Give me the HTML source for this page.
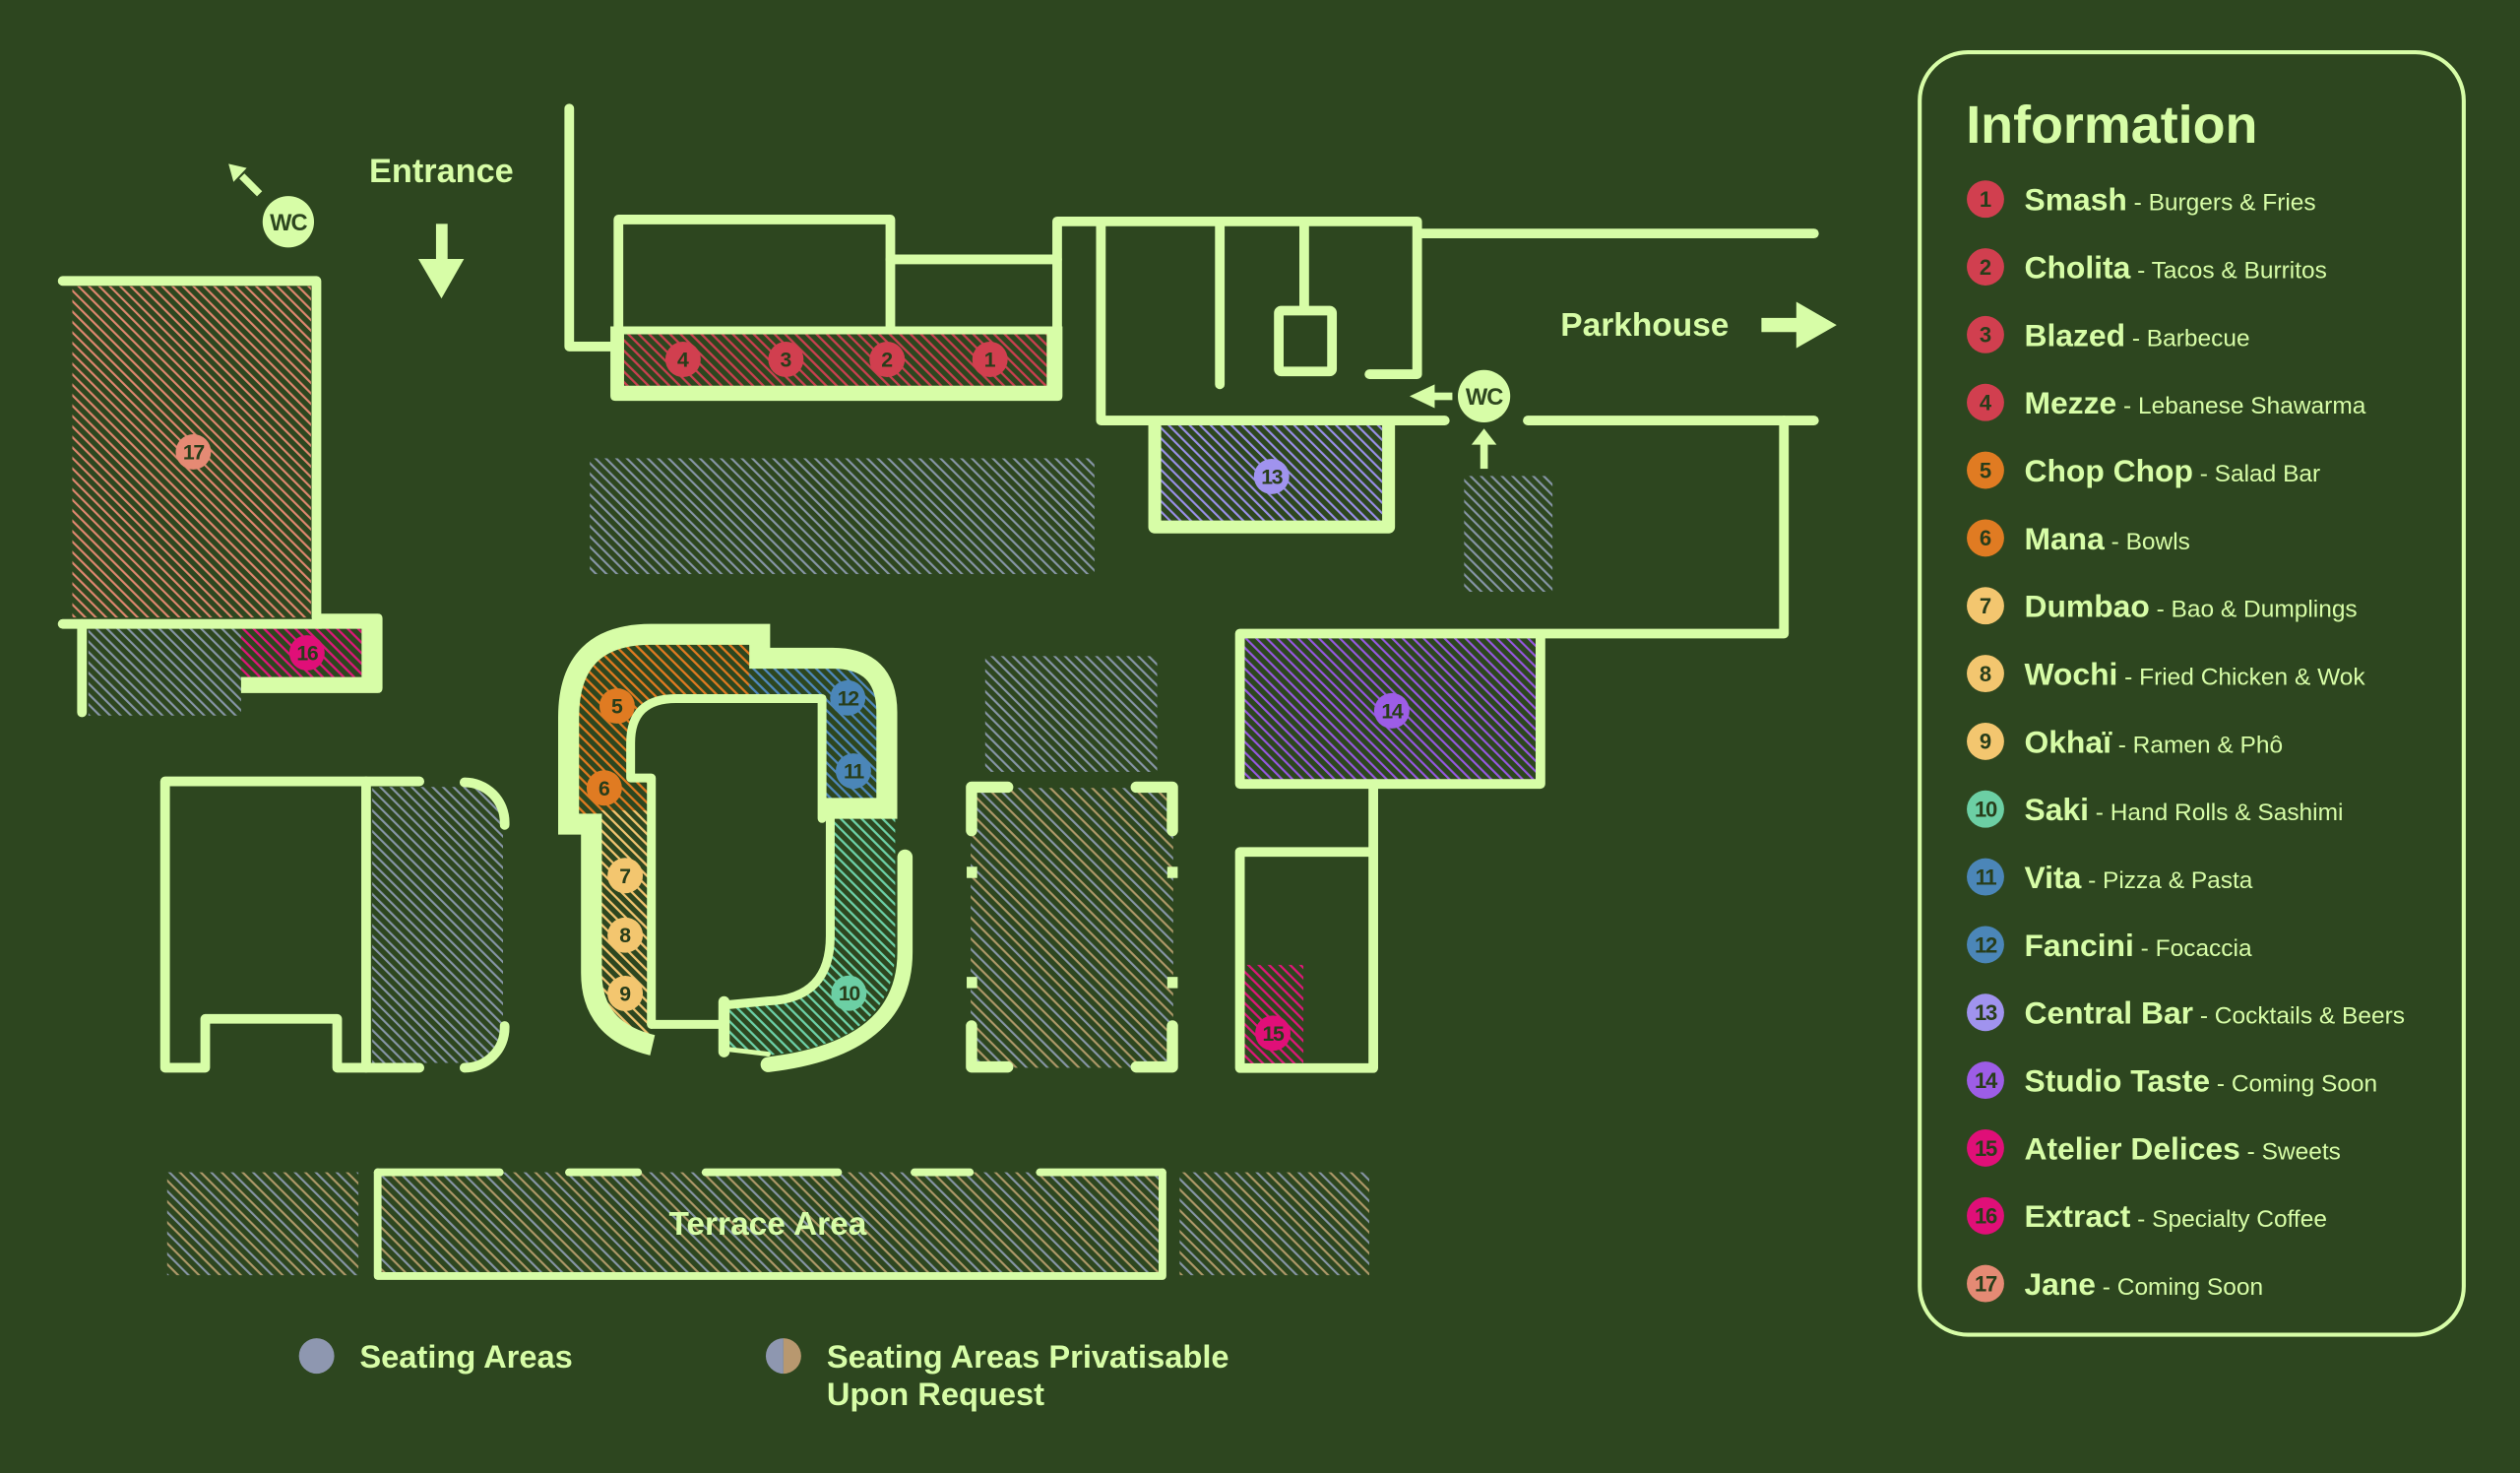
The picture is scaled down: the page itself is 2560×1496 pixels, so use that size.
<!DOCTYPE html>
<html><head><meta charset="utf-8">
<style>
html,body{margin:0;padding:0;background:#2d461f;}
svg{display:block;}
text{font-family:"Liberation Sans",Arial,sans-serif;}
</style></head><body>
<svg width="2560" height="1496" viewBox="0 0 1568 916" preserveAspectRatio="none" xmlns="http://www.w3.org/2000/svg">
<defs>
<pattern id="hg" patternUnits="userSpaceOnUse" width="4.6" height="4.6" patternTransform="rotate(-45)"><rect width="1.3" height="4.6" fill="#8796a6"/></pattern>
<pattern id="hp" patternUnits="userSpaceOnUse" width="9.2" height="4.6" patternTransform="rotate(-45)"><rect width="1.3" height="4.6" fill="#8796a6"/><rect x="4.6" width="1.3" height="4.6" fill="#b09a6a"/></pattern>
<pattern id="hr" patternUnits="userSpaceOnUse" width="4.6" height="4.6" patternTransform="rotate(-45)"><rect width="1.4" height="4.6" fill="#c9404f"/></pattern>
<pattern id="h17" patternUnits="userSpaceOnUse" width="4.6" height="4.6" patternTransform="rotate(-45)"><rect width="1.3" height="4.6" fill="#e0886f"/></pattern>
<pattern id="hm" patternUnits="userSpaceOnUse" width="4.6" height="4.6" patternTransform="rotate(-45)"><rect width="1.4" height="4.6" fill="#dc1878"/></pattern>
<pattern id="h13" patternUnits="userSpaceOnUse" width="4.6" height="4.6" patternTransform="rotate(-45)"><rect width="1.3" height="4.6" fill="#9a90e8"/></pattern>
<pattern id="h14" patternUnits="userSpaceOnUse" width="4.6" height="4.6" patternTransform="rotate(-45)"><rect width="1.3" height="4.6" fill="#9658e0"/></pattern>
<pattern id="ho" patternUnits="userSpaceOnUse" width="4.6" height="4.6" patternTransform="rotate(-45)"><rect width="1.4" height="4.6" fill="#e07a20"/></pattern>
<pattern id="hy" patternUnits="userSpaceOnUse" width="4.6" height="4.6" patternTransform="rotate(-45)"><rect width="1.4" height="4.6" fill="#f0c470"/></pattern>
<pattern id="ht" patternUnits="userSpaceOnUse" width="4.6" height="4.6" patternTransform="rotate(-45)"><rect width="1.4" height="4.6" fill="#6cd0a6"/></pattern>
<pattern id="hb" patternUnits="userSpaceOnUse" width="4.6" height="4.6" patternTransform="rotate(-45)"><rect width="1.4" height="4.6" fill="#4f88bb"/></pattern>
</defs>

<rect width="1568" height="916" fill="#2d461f"/>

<!-- hatched areas -->
<rect x="45" y="178" width="148.5" height="206" fill="url(#h17)"/>
<rect x="55" y="391" width="95" height="54" fill="url(#hg)"/>
<rect x="150" y="391" width="75" height="30" fill="url(#hm)"/>
<rect x="388.3" y="207.9" width="263" height="32" fill="url(#hr)"/>
<rect x="367" y="285" width="314" height="72" fill="url(#hg)"/>
<rect x="722" y="263" width="138" height="61" fill="url(#h13)"/>
<rect x="911" y="296" width="55" height="72" fill="url(#hg)"/>
<rect x="774" y="397" width="184" height="89" fill="url(#h14)"/>
<rect x="774" y="600" width="37" height="63" fill="url(#hm)"/>
<rect x="613" y="408" width="107" height="72" fill="url(#hg)"/>
<rect x="604" y="490" width="126" height="174" fill="url(#hp)"/>
<path d="M231.6,489.4 H289 A24 24 0 0 1 313,513 V637 A24 24 0 0 1 289,661 H231.6 Z" fill="url(#hg)"/>
<rect x="104" y="729" width="119" height="64" fill="url(#hp)"/>
<rect x="235" y="729" width="488" height="64" fill="url(#hp)"/>
<rect x="734" y="729" width="118" height="64" fill="url(#hp)"/>

<!-- curved building hatches -->
<path d="M358,508 V445 Q358,399 404,399 H468 V436 H420.6 Q395,436 395,462 V484 H406 V508 Z" fill="url(#ho)"/>
<path d="M372,504 H405 V644 Q378,636 372,610 Z" fill="url(#hy)"/>
<path d="M466,414 H520 Q548,414 548,441 V498 H510 V436 H466 Z" fill="url(#hb)"/>
<path d="M516,508 H557 V590 Q557,648 480,656 L452,652 V624 L478,622 Q516,620 516,582 Z" fill="url(#ht)"/>

<!-- walls -->
<g fill="none" stroke="#d7fda7" stroke-width="6" stroke-linecap="round" stroke-linejoin="round">
  <path d="M39,174.7 H196.9 V384"/>
  <path d="M39,388 H200"/>
  <path d="M51,388 V443"/>
  <path d="M354.2,67.5 V215.5 H382"/>
  <path d="M384.8,204.5 V136.5 H554 V204.5"/>
  <path d="M554,161.3 H657.8"/>
  <path d="M657.8,245 V137.7 H881.8 V232.7 H852.1"/>
  <path d="M885,145.2 H1128.7"/>
  <path d="M685,137.7 V261.5 H899"/>
  <path d="M759,137.7 V239"/>
  <path d="M811.5,137.7 V193"/>
  <rect x="795.7" y="193.2" width="33.1" height="37.8" rx="1.5"/>
  <path d="M950.6,261.5 H1128.7"/>
  <path d="M1110,261.5 V394 H771.5 V487.5 H958.5 V394"/>
  <path d="M854.5,487.5 V664.2 H771.5 V529.8 H854.5"/>
  <path d="M261,485.9 H102.7 V664 H127.7 V633.6 H209.8 V664 H261"/>
  <path d="M227.8,485.9 V664"/>
  <path d="M289,486.5 A25 25 0 0 1 314,511.5 V513"/>
  <path d="M314,638 V639 A25 25 0 0 1 289,664"/>
  <path d="M405.3,637 V483.8 H392.4 V462 Q392.4,434.4 420.6,434.4 H511.5 V509" stroke-width="5.5"/>
  <path d="M516.6,509 V582 Q516.6,621 478,622.5 L451,625" stroke-width="5.5"/>
  <path d="M405.3,637 H450" stroke-width="5.5"/>
  <path d="M450.5,623 V654" stroke-width="7"/>
  <path d="M453,652.5 L478,655.5" stroke-width="3"/>
</g>
<!-- thick walls -->
<path d="M197,381.6 H235 Q238,381.6 238,384.6 V428 Q238,431 235,431 H150 V421 H225 V391 H197 Z" fill="#d7fda7"/>
<path d="M379.8,203 H661.1 V246 Q661.1,249.3 658,249.3 H383 Q379.8,249.3 379.8,246 Z M388.3,207.9 V239.9 H651.3 V207.9 Z" fill="#d7fda7" fill-rule="evenodd"/>
<path d="M718.5,262 V327.7 H864 V262" fill="none" stroke="#d7fda7" stroke-width="8" stroke-linejoin="round"/>
<path d="M406,650 Q368,641 368,605 V512.5 H353.8 V446 Q353.8,394.5 405,394.5 H472.7 V409.3 H518 Q551.8,409.3 551.8,443 V502.7 H509" fill="none" stroke="#d7fda7" stroke-width="13" stroke-linejoin="miter"/>
<path d="M563.1,533 V592 Q563.1,652 478,662" fill="none" stroke="#d7fda7" stroke-width="9.5" stroke-linecap="round"/>

<!-- dashed seating box -->
<g fill="none" stroke="#d7fda7" stroke-width="7" stroke-linecap="round" stroke-linejoin="round">
  <path d="M627,489.5 H604.5 V516.5"/>
  <path d="M707,489.5 H729.5 V516.5"/>
  <path d="M604.5,638 V663.5 H627"/>
  <path d="M729.5,638 V663.5 H707"/>
</g>
<g fill="#d7fda7">
  <rect x="601.5" y="539" width="6.5" height="7"/>
  <rect x="726.3" y="539" width="6.5" height="7"/>
  <rect x="601.5" y="607.5" width="6.5" height="7"/>
  <rect x="726.3" y="607.5" width="6.5" height="7"/>
</g>

<!-- terrace -->
<g fill="none" stroke="#d7fda7" stroke-width="4.8" stroke-linecap="round" stroke-linejoin="round">
  <path d="M235,729 V793.5 H723.3 V729"/>
  <path d="M235,729 H311"/>
  <path d="M354,729 H397"/>
  <path d="M439,729 H521.5"/>
  <path d="M569,729 H603.5"/>
  <path d="M647,729 H723.3"/>
</g>
<text x="477.7" y="767.8" font-size="20.5" font-weight="bold" fill="#d7fda7" text-anchor="middle">Terrace Area</text>

<!-- entrance & arrows -->
<text x="229.7" y="113.4" font-size="21" font-weight="bold" fill="#d7fda7">Entrance</text>
<rect x="271.3" y="139.2" width="7.2" height="23" fill="#d7fda7"/>
<polygon points="260.3,161 288.7,161 274.7,185.6" fill="#d7fda7"/>

<circle cx="179.4" cy="137.9" r="16" fill="#d7fda7"/>
<text x="179.4" y="143.2" font-size="14.5" font-weight="bold" fill="#2d461f" text-anchor="middle" letter-spacing="-0.6">WC</text>
<line x1="161.5" y1="120.5" x2="150.5" y2="109.5" stroke="#d7fda7" stroke-width="4.5"/>
<polygon points="142.2,101.9 153.5,104.5 145.3,113.1" fill="#d7fda7"/>

<text x="971" y="208.8" font-size="20.5" font-weight="bold" fill="#d7fda7">Parkhouse</text>
<rect x="1096" y="197.7" width="23" height="8.8" fill="#d7fda7"/>
<polygon points="1117.7,187.7 1142.8,202.1 1117.7,216.5" fill="#d7fda7"/>

<circle cx="923.4" cy="246.4" r="16.3" fill="#d7fda7"/>
<text x="923.4" y="251.7" font-size="14.5" font-weight="bold" fill="#2d461f" text-anchor="middle" letter-spacing="-0.6">WC</text>
<rect x="891" y="244.1" width="12.7" height="4.7" fill="#d7fda7"/>
<polygon points="892.7,239 877.1,246.4 892.7,253.8" fill="#d7fda7"/>
<rect x="921.05" y="275.5" width="4.7" height="16" fill="#d7fda7"/>
<polygon points="915.6,276.5 923.4,266.5 931.2,276.5" fill="#d7fda7"/>

<!-- map badges -->
<g font-size="13" font-weight="bold" text-anchor="middle" fill="#283d1a">
  <circle cx="616" cy="223.5" r="11" fill="#d13f4f"/><text x="616" y="228.1">1</text>
  <circle cx="552" cy="223.5" r="11" fill="#d13f4f"/><text x="552" y="228.1">2</text>
  <circle cx="489" cy="223.5" r="11" fill="#d13f4f"/><text x="489" y="228.1">3</text>
  <circle cx="425" cy="223.5" r="11" fill="#d13f4f"/><text x="425" y="228.1">4</text>
  <circle cx="384" cy="439" r="11" fill="#e07b22"/><text x="384" y="443.6">5</text>
  <circle cx="376" cy="490" r="11" fill="#e07b22"/><text x="376" y="494.6">6</text>
  <circle cx="389" cy="544.5" r="11" fill="#f3c66f"/><text x="389" y="549.1">7</text>
  <circle cx="389" cy="581.5" r="11" fill="#f3c66f"/><text x="389" y="586.1">8</text>
  <circle cx="389" cy="617.8" r="11" fill="#f3c66f"/><text x="389" y="622.4">9</text>
  <circle cx="528.2" cy="617.6" r="11" fill="#6ccfa4"/><text x="528.2" y="622.2" letter-spacing="-0.8">10</text>
  <circle cx="531" cy="479.5" r="11" fill="#4b86b8"/><text x="531" y="484.1" letter-spacing="-0.8">11</text>
  <circle cx="527.5" cy="434" r="11" fill="#4b86b8"/><text x="527.5" y="438.6" letter-spacing="-0.8">12</text>
  <circle cx="791.2" cy="296.3" r="11" fill="#a093ee"/><text x="791.2" y="300.9" letter-spacing="-0.8">13</text>
  <circle cx="866" cy="442" r="11" fill="#9d5de6"/><text x="866" y="446.6" letter-spacing="-0.8">14</text>
  <circle cx="792" cy="642.5" r="11" fill="#e00f78"/><text x="792" y="647.1" letter-spacing="-0.8">15</text>
  <circle cx="191" cy="406" r="11" fill="#e00f78"/><text x="191" y="410.6" letter-spacing="-0.8">16</text>
  <circle cx="120.3" cy="281" r="11" fill="#e58a74"/><text x="120.3" y="285.6" letter-spacing="-0.8">17</text>
</g>

<!-- bottom legend -->
<circle cx="197" cy="843.2" r="11" fill="#8e97b0"/>
<text x="223.8" y="850.4" font-size="20" font-weight="bold" fill="#d7fda7">Seating Areas</text>
<path d="M487.5,832.2 A11 11 0 0 0 487.5,854.2 Z" fill="#8e97b0"/>
<path d="M487.5,832.2 A11 11 0 0 1 487.5,854.2 Z" fill="#b8986f"/>
<text x="514.4" y="850.4" font-size="20" font-weight="bold" fill="#d7fda7">Seating Areas Privatisable</text>
<text x="514.4" y="873.9" font-size="20" font-weight="bold" fill="#d7fda7">Upon Request</text>

<!-- information panel -->
<rect x="1194.5" y="32.5" width="338.5" height="797.5" rx="30" fill="none" stroke="#d7fda7" stroke-width="2.5"/>
<text x="1223.3" y="88.7" font-size="33" font-weight="bold" fill="#d7fda7">Information</text>

<g fill="#d7fda7">
<text x="1259.6" y="130.8"><tspan font-size="19.5" font-weight="bold">Smash</tspan><tspan font-size="15"> - Burgers &amp; Fries</tspan></text>
<text x="1259.6" y="172.95"><tspan font-size="19.5" font-weight="bold">Cholita</tspan><tspan font-size="15"> - Tacos &amp; Burritos</tspan></text>
<text x="1259.6" y="215.1"><tspan font-size="19.5" font-weight="bold">Blazed</tspan><tspan font-size="15"> - Barbecue</tspan></text>
<text x="1259.6" y="257.25"><tspan font-size="19.5" font-weight="bold">Mezze</tspan><tspan font-size="15"> - Lebanese Shawarma</tspan></text>
<text x="1259.6" y="299.4"><tspan font-size="19.5" font-weight="bold">Chop Chop</tspan><tspan font-size="15"> - Salad Bar</tspan></text>
<text x="1259.6" y="341.55"><tspan font-size="19.5" font-weight="bold">Mana</tspan><tspan font-size="15"> - Bowls</tspan></text>
<text x="1259.6" y="383.7"><tspan font-size="19.5" font-weight="bold">Dumbao</tspan><tspan font-size="15"> - Bao &amp; Dumplings</tspan></text>
<text x="1259.6" y="425.85"><tspan font-size="19.5" font-weight="bold">Wochi</tspan><tspan font-size="15"> - Fried Chicken &amp; Wok</tspan></text>
<text x="1259.6" y="468"><tspan font-size="19.5" font-weight="bold">Okhaï</tspan><tspan font-size="15"> - Ramen &amp; Phô</tspan></text>
<text x="1259.6" y="510.15"><tspan font-size="19.5" font-weight="bold">Saki</tspan><tspan font-size="15"> - Hand Rolls &amp; Sashimi</tspan></text>
<text x="1259.6" y="552.3"><tspan font-size="19.5" font-weight="bold">Vita</tspan><tspan font-size="15"> - Pizza &amp; Pasta</tspan></text>
<text x="1259.6" y="594.45"><tspan font-size="19.5" font-weight="bold">Fancini</tspan><tspan font-size="15"> - Focaccia</tspan></text>
<text x="1259.6" y="636.6"><tspan font-size="19.5" font-weight="bold">Central Bar</tspan><tspan font-size="15"> - Cocktails &amp; Beers</tspan></text>
<text x="1259.6" y="678.75"><tspan font-size="19.5" font-weight="bold">Studio Taste</tspan><tspan font-size="15"> - Coming Soon</tspan></text>
<text x="1259.6" y="720.9"><tspan font-size="19.5" font-weight="bold">Atelier Delices</tspan><tspan font-size="15"> - Sweets</tspan></text>
<text x="1259.6" y="763.05"><tspan font-size="19.5" font-weight="bold">Extract</tspan><tspan font-size="15"> - Specialty Coffee</tspan></text>
<text x="1259.6" y="805.2"><tspan font-size="19.5" font-weight="bold">Jane</tspan><tspan font-size="15"> - Coming Soon</tspan></text>
</g>

<g font-size="13.5" font-weight="bold" text-anchor="middle" fill="#283d1a">
  <circle cx="1235.4" cy="123.8" r="11.6" fill="#d13f4f"/><text x="1235.4" y="128.6">1</text>
  <circle cx="1235.4" cy="165.95" r="11.6" fill="#d13f4f"/><text x="1235.4" y="170.75">2</text>
  <circle cx="1235.4" cy="208.1" r="11.6" fill="#d13f4f"/><text x="1235.4" y="212.9">3</text>
  <circle cx="1235.4" cy="250.25" r="11.6" fill="#d13f4f"/><text x="1235.4" y="255.05">4</text>
  <circle cx="1235.4" cy="292.4" r="11.6" fill="#e07b22"/><text x="1235.4" y="297.2">5</text>
  <circle cx="1235.4" cy="334.55" r="11.6" fill="#e07b22"/><text x="1235.4" y="339.35">6</text>
  <circle cx="1235.4" cy="376.7" r="11.6" fill="#f3c66f"/><text x="1235.4" y="381.5">7</text>
  <circle cx="1235.4" cy="418.85" r="11.6" fill="#f3c66f"/><text x="1235.4" y="423.65">8</text>
  <circle cx="1235.4" cy="461" r="11.6" fill="#f3c66f"/><text x="1235.4" y="465.8">9</text>
  <circle cx="1235.4" cy="503.15" r="11.6" fill="#6ccfa4"/><text x="1235.4" y="507.95" letter-spacing="-0.8">10</text>
  <circle cx="1235.4" cy="545.3" r="11.6" fill="#4b86b8"/><text x="1235.4" y="550.1" letter-spacing="-0.8">11</text>
  <circle cx="1235.4" cy="587.45" r="11.6" fill="#4b86b8"/><text x="1235.4" y="592.25" letter-spacing="-0.8">12</text>
  <circle cx="1235.4" cy="629.6" r="11.6" fill="#a093ee"/><text x="1235.4" y="634.4" letter-spacing="-0.8">13</text>
  <circle cx="1235.4" cy="671.75" r="11.6" fill="#9d5de6"/><text x="1235.4" y="676.55" letter-spacing="-0.8">14</text>
  <circle cx="1235.4" cy="713.9" r="11.6" fill="#e00f78"/><text x="1235.4" y="718.7" letter-spacing="-0.8">15</text>
  <circle cx="1235.4" cy="756.05" r="11.6" fill="#e00f78"/><text x="1235.4" y="760.85" letter-spacing="-0.8">16</text>
  <circle cx="1235.4" cy="798.2" r="11.6" fill="#e58a74"/><text x="1235.4" y="803" letter-spacing="-0.8">17</text>
</g>
</svg>
</body></html>
